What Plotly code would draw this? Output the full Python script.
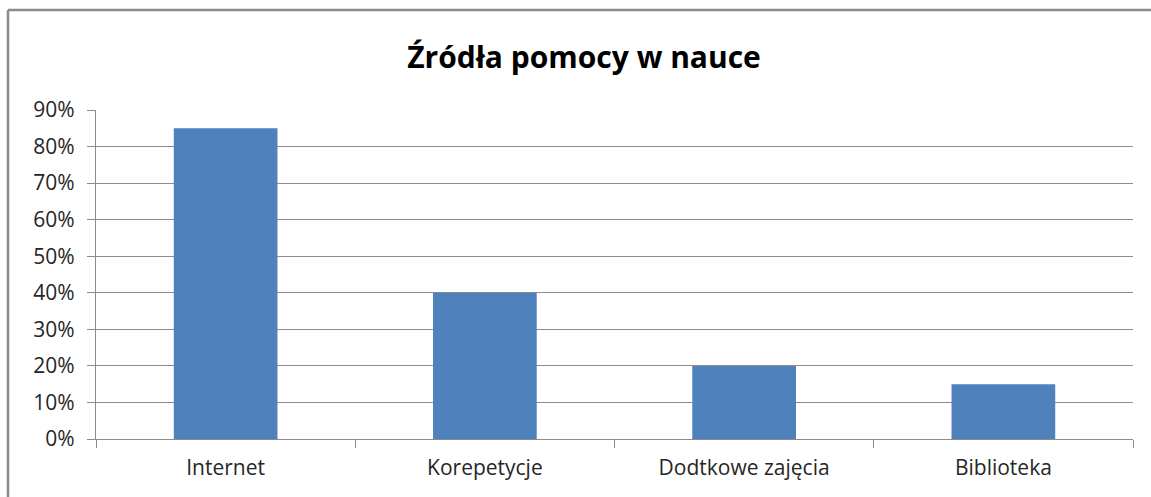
import plotly.graph_objects as go

categories = ["Internet", "Korepetycje", "Dodtkowe zajęcia", "Biblioteka"]
values = [0.85, 0.40, 0.20, 0.15]
title_text = "Źródła pomocy w nauce"

W, H = 1151, 497
L, R, T, B = 96, 18, 110, 58
pw, ph = W - L - R, H - T - B

def px_x(x):
    return (x - L) / pw

def px_y(y):
    return (H - B - y) / ph

FONT = "'Open Sans', Lato, sans-serif"

fig = go.Figure(go.Bar(x=categories, y=values, marker=dict(color="#4f81bd", line=dict(width=0))))

fig.update_layout(
    width=W, height=H,
    margin=dict(l=L, r=R, t=T, b=B, autoexpand=False),
    paper_bgcolor="white", plot_bgcolor="white",
    bargap=0.6,
    showlegend=False,
    font=dict(family=FONT, color="#262626"),
    title=dict(text="<b>" + title_text + "</b>", x=584 / W, xref="container", xanchor="center",
               y=1 - 57 / H, yref="container", yanchor="middle",
               font=dict(size=30, color="#000000", family=FONT)),
    shapes=[dict(type="line", xref="paper", yref="paper",
                 x0=px_x(8), x1=px_x(8), y0=px_y(H), y1=px_y(10),
                 line=dict(color="#8a8a8a", width=2.5)),
            dict(type="line", xref="paper", yref="paper",
                 x0=px_x(8), x1=px_x(W), y0=px_y(10), y1=px_y(10),
                 line=dict(color="#8a8a8a", width=2.5))],
)

fig.update_yaxes(range=[0, 0.9], dtick=0.1, tick0=0, tickformat=".0%",
                 showgrid=True, gridcolor="#8c8c8c", gridwidth=1.2,
                 showline=True, linecolor="#8c8c8c", linewidth=1.2,
                 ticks="outside", ticklen=8, tickcolor="#8c8c8c", tickwidth=1.2,
                 ticklabelstandoff=8,
                 tickfont=dict(size=21, color="#262626"), zeroline=False, fixedrange=True)
fig.update_xaxes(showline=True, linecolor="#8c8c8c", linewidth=1.2, showgrid=False,
                 ticks="outside", tickson="boundaries", ticklen=8, tickcolor="#8c8c8c", tickwidth=1.2,
                 tickfont=dict(size=21, color="#262626"), ticklabelstandoff=10, fixedrange=True)

fig.write_html("out.html", config={"displayModeBar": False},
               post_script="document.body.style.margin='0';document.body.style.overflow='hidden';")
